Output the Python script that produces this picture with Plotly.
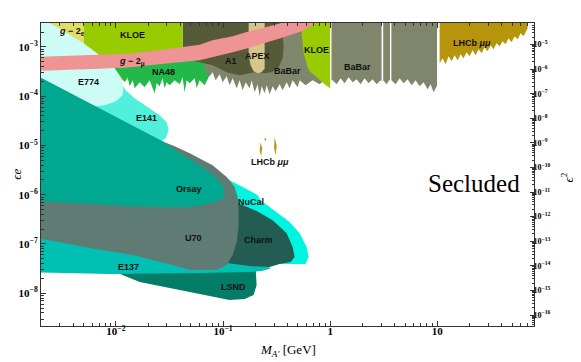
import numpy as np
import plotly.graph_objects as go

# Boundary points of each excluded region: mass M_A' [GeV] and coupling eps*e,
# read off the reference picture (edges beyond the frame just get clipped).

lsnd_m = [0.00875, 0.0206, 0.0605, 0.177, 0.202, 0.206, 0.193, 0.159, 0.115, 0.0489, 0.0167]
lsnd_e = [3.0e-8, 3.0e-8, 3.1e-8, 3.2e-8, 3.0e-8, 1.47e-8, 9.2e-9, 7.6e-9, 7.3e-9, 1.06e-8, 1.69e-8]

e137_m = [0.0015, 0.00707, 0.0605, 0.143, 0.261, 0.278, 0.2295, 0.177, 0.0605, 0.00875, 0.0015]
e137_e = [1.91e-7, 1.20e-7, 5.95e-8, 5.16e-8, 3.56e-8, 3.17e-8, 2.82e-8, 2.69e-8, 2.57e-8, 2.45e-8, 2.69e-8]

nucal_m = [0.0394, 0.0605, 0.093, 0.1153, 0.1525, 0.2106, 0.2245, 0.3167, 0.4188, 0.5193, 0.6035,
           0.6301, 0.5906, 0.4466, 0.2198, 0.1371, 0.0605, 0.0394]
nucal_e = [8.03e-6, 5.03e-6, 2.87e-6, 1.98e-6, 1.43e-6, 9.82e-7, 7.77e-7, 4.44e-7, 2.78e-7, 1.66e-7, 8.65e-8,
           5.42e-8, 3.91e-8, 3.91e-8, 3.91e-8, 5.95e-8, 1.91e-7, 7.77e-7]

charm_m = [0.1371, 0.2061, 0.2906, 0.3927, 0.4466, 0.4664, 0.4277, 0.3378, 0.2725, 0.1774, 0.1082, 0.093, 0.1036]
charm_e = [6.76e-7, 4.65e-7, 3.05e-7, 1.66e-7, 8.65e-8, 5.42e-8, 4.29e-8, 3.91e-8, 3.40e-8, 3.56e-8, 4.10e-8,
           1.20e-7, 4.87e-7]

e141_m = [0.0015, 0.00707, 0.01132, 0.01234, 0.01497, 0.02066, 0.0256, 0.0298, 0.0311, 0.0292, 0.0256, 0.00707, 0.0015]
e141_e = [5.38e-4, 2.67e-4, 1.92e-4, 1.32e-4, 9.11e-5, 5.71e-5, 4.12e-5, 2.97e-5, 2.04e-5, 1.41e-5, 1.17e-5,
          4.73e-5, 1.92e-4]

g2e_m = [0.00182, 0.00501, 0.00501, 0.00875, 0.01288, 0.01345, 0.01108, 0.00299]
g2e_e = [4.4e-3, 4.4e-3, 1.19e-3, 5.90e-4, 3.37e-4, 2.11e-4, 2.11e-4, 1.73e-3]

e774_m = [0.0015, 0.00182, 0.00501, 0.00707, 0.00975, 0.01084, 0.01183, 0.01156, 0.00996, 0.00787, 0.00634,
          0.00371, 0.0015]
e774_e = [4.4e-3, 4.4e-3, 1.19e-3, 6.79e-4, 3.70e-4, 2.55e-4, 1.60e-4, 1.05e-4, 7.92e-5, 6.57e-5, 6.27e-5,
          8.30e-5, 1.21e-4]

u70_m = [0.0015, 0.0256, 0.0354, 0.0489, 0.0800, 0.1082, 0.1285, 0.1371, 0.1400, 0.1400, 0.1342, 0.1231,
         0.1082, 0.0872, 0.0489, 0.0339, 0.01435, 0.0057, 0.0015]
u70_e = [5.20e-5, 1.28e-5, 9.68e-6, 6.98e-6, 3.98e-6, 2.28e-6, 1.43e-6, 8.94e-7, 5.60e-7, 2.42e-7, 1.09e-7,
         5.95e-8, 3.73e-8, 2.96e-8, 2.96e-8, 3.73e-8, 5.95e-8, 8.25e-8, 1.45e-7]

orsay_m = [0.0015, 0.00707, 0.0273, 0.0394, 0.0605, 0.0800, 0.0971, 0.1036, 0.0993, 0.0800, 0.0568, 0.0394,
           0.01435, 0.0015]
orsay_e = [3.27e-4, 5.71e-5, 1.22e-5, 6.98e-6, 3.98e-6, 2.50e-6, 1.72e-6, 1.13e-6, 8.53e-7, 6.76e-7, 5.87e-7,
           5.60e-7, 5.87e-7, 7.6e-7]

na48_m = [0.00975, 0.01084, 0.01156, 0.01208, 0.01288, 0.01345, 0.01435, 0.01497, 0.01667, 0.01856, 0.02066,
          0.0230, 0.0240, 0.0256, 0.0273, 0.0285, 0.0298, 0.0318, 0.0354, 0.0394, 0.0420, 0.0438, 0.0458,
          0.0489, 0.0544, 0.0568, 0.0605, 0.0674, 0.0750, 0.0800, 0.0800, 0.00975]
na48_e = [3.70e-4, 2.67e-4, 2.32e-4, 1.92e-4, 2.43e-4, 1.60e-4, 2.11e-4, 1.45e-4, 1.92e-4, 1.52e-4, 2.11e-4,
          1.15e-4, 1.84e-4, 1.60e-4, 2.32e-4, 1.45e-4, 1.92e-4, 1.67e-4, 2.11e-4, 1.75e-4, 2.43e-4, 1.21e-4,
          2.11e-4, 1.84e-4, 2.32e-4, 1.45e-4, 2.11e-4, 1.67e-4, 2.67e-4, 3.37e-4, 8.57e-4, 4.90e-4]

babar1_m = [0.0674, 0.0750, 0.0800, 0.0854, 0.0930, 0.0993, 0.1082, 0.1153, 0.1231, 0.1342, 0.1430, 0.1525,
            0.1627, 0.1774, 0.1851, 0.1974, 0.2106, 0.2198, 0.2295, 0.2448, 0.2556, 0.2725, 0.2906, 0.3100,
            0.3378, 0.3604, 0.3927, 0.4188, 0.4466, 0.4974, 0.5193, 0.5906, 0.6866, 0.7979, 0.8891, 0.968,
            0.995, 0.995, 0.0674]
babar1_e = [3.37e-4, 2.55e-4, 3.07e-4, 2.11e-4, 2.80e-4, 1.92e-4, 2.55e-4, 1.67e-4, 2.32e-4, 1.45e-4, 2.11e-4,
            1.32e-4, 1.92e-4, 1.45e-4, 2.11e-4, 1.21e-4, 1.75e-4, 1.00e-4, 1.60e-4, 1.15e-4, 1.67e-4, 1.10e-4,
            1.60e-4, 1.26e-4, 1.75e-4, 1.32e-4, 1.92e-4, 1.45e-4, 2.11e-4, 1.52e-4, 2.11e-4, 1.67e-4, 2.11e-4,
            1.75e-4, 2.11e-4, 1.67e-4, 1.6e-4, 4.4e-3, 4.4e-3]

a1_m = [0.0420, 0.3236, 0.3527, 0.3683, 0.3604, 0.3305, 0.2844, 0.2448, 0.1974, 0.1430, 0.1082, 0.0800, 0.0605, 0.0420]
a1_e = [4.4e-3, 4.4e-3, 2.18e-3, 1.08e-3, 5.90e-4, 3.88e-4, 3.07e-4, 2.93e-4, 3.07e-4, 2.67e-4, 3.07e-4,
        4.26e-4, 4.90e-4, 5.90e-4]

apex_m = [0.1735, 0.2448, 0.2448, 0.2295, 0.2106, 0.1932, 0.1811, 0.1735]
apex_e = [4.4e-3, 4.4e-3, 3.70e-4, 3.07e-4, 2.93e-4, 3.21e-4, 4.26e-4, 6.79e-4]

kloe1_m = [0.00501, 0.0420, 0.0420, 0.01084, 0.00707, 0.00501]
kloe1_e = [4.4e-3, 4.4e-3, 5.38e-4, 3.70e-4, 6.79e-4, 1.19e-3]

kloe2_m = [0.4974, 1.0, 1.0, 0.8891, 0.7482, 0.644, 0.6167, 0.566, 0.542, 0.5193]
kloe2_e = [4.4e-3, 4.4e-3, 1.45e-4, 1.75e-4, 2.43e-4, 3.21e-4, 3.88e-4, 7.45e-4, 1.99e-3, 3.07e-3]

babar2a_m = [1.03, 1.055, 1.150, 1.253, 1.366, 1.488, 1.622, 1.767, 1.926, 2.099, 2.287, 2.492, 2.716, 2.960,
             3.02, 3.02, 1.03]
babar2a_e = [2.11e-4, 2.11e-4, 1.75e-4, 2.32e-4, 1.84e-4, 2.43e-4, 1.92e-4, 2.21e-4, 1.75e-4, 2.32e-4, 1.84e-4,
             2.21e-4, 1.75e-4, 2.11e-4, 2.0e-4, 4.4e-3, 4.4e-3]
babar2b_m = [3.13, 3.368, 3.62, 3.62, 3.13]
babar2b_e = [2.11e-4, 1.75e-4, 2.21e-4, 4.4e-3, 4.4e-3]
babar2c_m = [3.73, 4.087, 4.453, 4.853, 5.288, 5.763, 6.280, 6.844, 7.458, 8.127, 8.667, 9.245, 9.861, 9.95,
             9.95, 3.73]
babar2c_e = [2.11e-4, 1.75e-4, 2.32e-4, 1.84e-4, 2.21e-4, 1.67e-4, 2.11e-4, 1.60e-4, 1.92e-4, 1.39e-4, 1.75e-4,
             1.21e-4, 1.60e-4, 1.6e-4, 4.4e-3, 4.4e-3]

lhcb_m = [10.52, 11.22, 11.96, 12.76, 13.61, 14.52, 15.49, 16.52, 17.62, 18.79, 20.04, 21.38, 22.80, 24.32,
          25.94, 27.67, 29.51, 31.48, 33.57, 35.81, 38.19, 40.74, 43.45, 46.35, 49.43, 52.73, 56.24, 59.98,
          63.98, 68.24, 69.7, 69.7, 10.52]
lhcb_e = [4.67e-4, 5.90e-4, 4.46e-4, 6.48e-4, 5.13e-4, 6.79e-4, 5.38e-4, 7.11e-4, 5.90e-4, 7.80e-4, 6.48e-4,
          8.57e-4, 6.79e-4, 8.98e-4, 7.45e-4, 9.86e-4, 8.18e-4, 1.08e-3, 8.98e-4, 1.19e-3, 1.03e-3, 1.31e-3,
          1.13e-3, 1.50e-3, 1.25e-3, 1.65e-3, 1.43e-3, 1.90e-3, 1.65e-3, 2.18e-3, 2.39e-3, 4.4e-3, 4.4e-3]

# small LHCb islands near 0.2-0.3 GeV
lhcb_a_m = [0.2245, 0.2319, 0.2270, 0.2198]
lhcb_a_e = [1.17e-5, 8.81e-6, 6.07e-6, 8.03e-6]
lhcb_b_m = [0.2474, 0.2527, 0.2474, 0.2448]
lhcb_b_e = [1.47e-5, 1.34e-5, 1.22e-5, 1.34e-5]
lhcb_c_m = [0.3034, 0.3167, 0.3100, 0.3001]
lhcb_c_e = [1.47e-5, 1.01e-5, 6.36e-6, 8.81e-6]

# g-2 muon band (upper and lower edge)
g2mu_up_m = [0.0015, 0.00707, 0.01435, 0.0298, 0.0420, 0.0605, 0.0800, 0.1231, 0.1663, 0.2448, 0.3378, 0.4664]
g2mu_up_e = [6.18e-4, 6.95e-4, 7.35e-4, 8.98e-4, 1.01e-3, 1.11e-3, 1.37e-3, 1.65e-3, 2.01e-3, 2.51e-3, 2.99e-3, 3.82e-3]
g2mu_lo_m = [0.0015, 0.00707, 0.01435, 0.0298, 0.0605, 0.0800, 0.1231, 0.1663, 0.2448, 0.3378, 0.5193, 0.6866, 0.8337]
g2mu_lo_e = [3.21e-4, 3.61e-4, 3.93e-4, 4.60e-4, 5.38e-4, 6.26e-4, 7.80e-4, 9.29e-4, 1.19e-3, 1.48e-3, 2.01e-3,
             2.75e-3, 3.82e-3]

# region labels
label_text = ["E774", "E141", "KLOE", "<i>g</i> − 2<sub>e</sub>", "<i>g</i> − 2<sub>μ</sub>", "NA48", "A1",
              "APEX", "BaBar", "KLOE", "BaBar", "LHCb <i>μμ</i>", "LHCb <i>μμ</i>", "Orsay", "NuCal",
              "Charm", "U70", "E137", "LSND"]
label_m = [0.00558, 0.01938, 0.01435, 0.00387, 0.01404, 0.0279, 0.1179, 0.2106, 0.4013, 0.7482, 1.805,
           20.92, 0.2725, 0.0478, 0.1811, 0.2151, 0.0532, 0.01317, 0.1257]
label_e = [1.92e-4, 3.58e-5, 1.73e-3, 2.08e-3, 4.90e-4, 3.07e-4, 5.13e-4, 6.48e-4, 3.21e-4, 8.57e-4, 3.88e-4,
           1.19e-3, 4.58e-6, 1.30e-6, 7.08e-7, 1.20e-7, 1.32e-7, 3.40e-8, 1.34e-8]

x_tick_vals = [0.01, 0.1, 1, 10]
x_tick_text = ["10<sup>−2</sup>", "10<sup>−1</sup>", "1", "10"]
y_tick_vals = [1e-3, 1e-4, 1e-5, 1e-6, 1e-7, 1e-8]
y_tick_text = ["10<sup>−%d</sup>" % k for k in range(3, 9)]
y2_tick_vals = [10.0 ** -k for k in range(5, 17)]
y2_tick_text = ["10<sup>−%d</sup>" % k for k in range(5, 17)]

regions = [  # back to front
    (lsnd_m, lsnd_e, "#047c68"),
    (e137_m, e137_e, "#00c0b4"),
    (nucal_m, nucal_e, "#00f5e0"),
    (charm_m, charm_e, "#235c52"),
    (e141_m, e141_e, "#50f0dc"),
    (g2e_m, g2e_e, "#dfdf66"),
    (e774_m, e774_e, "#cdfcf6"),
    (u70_m, u70_e, "#5e7c74"),
    (orsay_m, orsay_e, "#00a890"),
    (na48_m, na48_e, "#22b84a"),
    (babar1_m, babar1_e, "#80866c"),
    (a1_m, a1_e, "#555b38"),
    (apex_m, apex_e, "#d6c68c"),
    (kloe1_m, kloe1_e, "#99cc00"),
    (kloe2_m, kloe2_e, "#99cc00"),
    (babar2a_m, babar2a_e, "#80866c"),
    (babar2b_m, babar2b_e, "#80866c"),
    (babar2c_m, babar2c_e, "#80866c"),
    (lhcb_m, lhcb_e, "#b6940c"),
    (lhcb_a_m, lhcb_a_e, "#b6940c"),
    (lhcb_b_m, lhcb_b_e, "#b6940c"),
    (lhcb_c_m, lhcb_c_e, "#b6940c"),
    (g2mu_up_m + g2mu_lo_m[::-1], g2mu_up_e + g2mu_lo_e[::-1], "#ef9494"),
]

fig = go.Figure()
for m, e, col in regions:
    fig.add_trace(go.Scatter(x=m, y=e, mode="lines", fill="toself", fillcolor=col,
                             line=dict(width=0, color=col), hoverinfo="skip", showlegend=False))

# empty trace so the eps^2 axis on the right gets drawn
fig.add_trace(go.Scatter(x=[], y=[], yaxis="y2", showlegend=False))

for txt, m, e in zip(label_text, label_m, label_e):
    fig.add_annotation(x=np.log10(m), y=np.log10(e), text=txt, showarrow=False,
                       font=dict(family="Liberation Sans", size=9, color="#111", weight="bold"))

fig.add_annotation(x=np.log10(21.8), y=np.log10(1.72e-6), text="Secluded", showarrow=False,
                   font=dict(family="Liberation Serif", size=25, color="black"))

# axis titles
title_font = dict(family="Liberation Serif", size=13, color="black")
fig.add_annotation(xref="paper", yref="paper", x=0.502, y=-0.082, xanchor="center", yanchor="middle",
                   text="<i>M</i><sub><i>A′</i></sub> [GeV]", showarrow=False, font=title_font)
fig.add_annotation(xref="paper", yref="paper", x=-0.05, y=0.5, xanchor="center", yanchor="middle",
                   text="<i>ϵe</i>", textangle=-90, showarrow=False, font=title_font)
fig.add_annotation(xref="paper", yref="paper", x=1.067, y=0.49, xanchor="center", yanchor="middle",
                   text="<i>ϵ</i><sup>2</sup>", textangle=-90, showarrow=False, font=title_font)

minor_x = [k * 10.0 ** d for d in range(-3, 2) for k in range(2, 10)]
minor_y = [k * 10.0 ** d for d in range(-9, -2) for k in range(2, 10)]
minor_y2 = [k * 10.0 ** d for d in range(-17, -4) for k in range(2, 10)]
tick_font = dict(family="Liberation Serif", size=11, color="black", weight="bold")
axis_common = dict(showgrid=False, zeroline=False, showline=True, linecolor="#333", linewidth=1,
                   ticks="inside", tickcolor="#333", ticklen=5, automargin=False)

# the page body keeps the browser's default 8 px margin, so the figure is
# made 8 px smaller and the left/top margins shifted to keep the frame in place
fig.update_layout(
    width=573, height=354,
    margin=dict(l=33, r=47, t=15, b=36),
    plot_bgcolor="white", paper_bgcolor="white", showlegend=False,
    xaxis=dict(type="log", range=[np.log10(0.002), np.log10(80)], mirror="ticks",
               tickmode="array", tickvals=x_tick_vals, ticktext=x_tick_text, tickfont=tick_font,
               ticklabelstandoff=-5,
               minor=dict(tickvals=minor_x, ticks="inside", ticklen=3, tickcolor="#333", showgrid=False),
               **axis_common),
    yaxis=dict(type="log", range=[-8.665, -2.513],
               tickmode="array", tickvals=y_tick_vals, ticktext=y_tick_text, tickfont=tick_font,
               minor=dict(tickvals=minor_y, ticks="inside", ticklen=3, tickcolor="#333", showgrid=False),
               **axis_common),
    yaxis2=dict(type="log", overlaying="y", side="right", range=[-16.447, -4.122],
                tickmode="array", tickvals=y2_tick_vals, ticktext=y2_tick_text,
                tickfont=dict(family="Liberation Serif", size=8, color="black", weight="bold"),
                ticklabelstandoff=-3,
                minor=dict(tickvals=minor_y2, ticks="inside", ticklen=2, tickcolor="#333", showgrid=False),
                showgrid=False, zeroline=False, showline=True, linecolor="#333", linewidth=1,
                ticks="inside", tickcolor="#333", ticklen=4, automargin=False),
)

fig.write_html("out.html")
